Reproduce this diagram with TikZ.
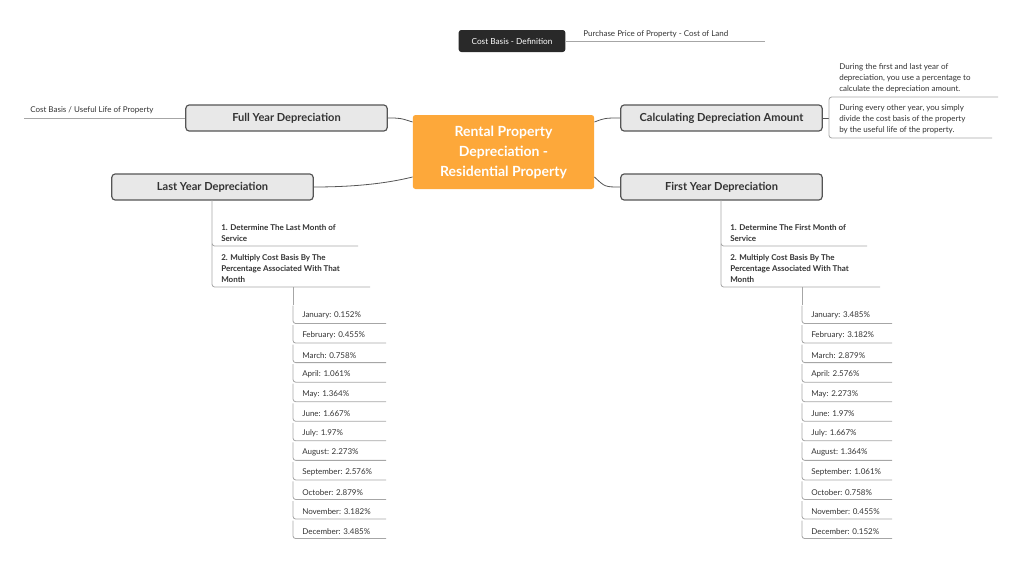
\documentclass[tikz,border=0pt]{standalone}
\usepackage{fontspec}
\setmainfont{Lato}
\definecolor{orng}{HTML}{FDA83A}
\definecolor{boxg}{HTML}{E8E8E8}
\definecolor{edge}{HTML}{555555}
\definecolor{txt}{HTML}{333333}
\begin{document}
\begin{tikzpicture}[x=0.75pt,y=-0.75pt,
  topic/.style={draw=edge,line width=0.9pt,fill=boxg,rounded corners=2.5pt,minimum width=151pt,minimum height=19.5pt,font=\fontsize{8.3}{10}\selectfont\bfseries,text=txt,inner sep=0pt},
  small/.style={font=\fontsize{6}{8.2}\selectfont,text=txt,anchor=south west,inner sep=0pt,align=left},
  smallb/.style={small,font=\fontsize{6}{8.2}\selectfont\bfseries},
  ln/.style={draw=edge,line width=0.6pt},
  uln/.style={draw=gray!70,line width=0.6pt,rounded corners=2pt}]
\useasboundingbox (0,0) rectangle (1024,565);
\node[fill=orng,rounded corners=2pt,minimum width=136pt,minimum height=55.5pt,text=white,font=\fontsize{10.5}{15}\selectfont\bfseries,align=center,inner sep=0pt] (c) at (503.5,152) {Rental Property\\Depreciation -\\Residential Property};
\node[topic] (fy) at (286.5,118) {Full Year Depreciation};
\node[topic] (ly) at (212.5,187) {Last Year Depreciation};
\node[topic] (ca) at (721.5,118) {Calculating Depreciation Amount};
\node[topic] (fr) at (721.5,187) {First Year Depreciation};
\node[fill=txt!80!black,rounded corners=2pt,minimum width=80pt,minimum height=16.5pt,text=white,font=\fontsize{6.2}{8}\selectfont,inner sep=0pt] (cb) at (512,41) {Cost Basis - Definition};
\draw[ln] (fy.east) .. controls (400,118) .. (c.west |- 0,122);
\draw[ln] (ly.east) .. controls (370,187) and (400,180) .. (c.west |- 0,177);
\draw[ln] (c.east |- 0,122) .. controls (605,118) .. (ca.west);
\draw[ln] (c.east |- 0,177) .. controls (605,187) .. (fr.west);
% cost basis def
\coordinate (cbe) at (765,41);
\draw[uln] (cb.east) -- (cbe);
\node[small] (cbt) at (583,38) {Purchase Price of Property - Cost of Land};
% full year note
\coordinate (fye) at (24,118);
\draw[uln] (fy.west) -- (fye);
\node[small] (fyt) at (30,114) {Cost Basis / Useful Life of Property};
% calc notes
\coordinate (cb1) at (998,97);
\coordinate (cb2) at (992,138);
\draw[ln] (ca.east) -- (829,118);
\draw[uln] (cb1) -- (829,97) -- (829,138) -- (cb2);
\node[small] (n1) at (839,93) {During the first and last year of\\depreciation, you use a percentage to\\calculate the depreciation amount.};
\node[small] (n2) at (839,134) {During every other year, you simply\\divide the cost basis of the property\\by the useful life of the property.};
% step lists
\foreach \nm/\vx/\ea/\eb/\word in {L/212/358/370/Last, F/721/867/880/First}{
  \coordinate (\nm s1) at (\ea,246);
  \coordinate (\nm s2) at (\eb,287);
  \draw[uln] (\vx,200) -- (\vx,246) -- (\nm s1);
  \draw[uln] (\vx,244) -- (\vx,287) -- (\nm s2);
  \node[smallb] (\nm t1) at (\vx+9,242) {1. Determine The \word{} Month of\\Service};
  \node[smallb] (\nm t2) at (\vx+9,283) {2. Multiply Cost Basis By The\\Percentage Associated With That\\Month};
}
% months
\def\mL{{"January: 0.152\%","February: 0.455\%","March: 0.758\%","April: 1.061\%","May: 1.364\%","June: 1.667\%","July: 1.97\%","August: 2.273\%","September: 2.576\%","October: 2.879\%","November: 3.182\%","December: 3.485\%"}}
\def\mF{{"January: 3.485\%","February: 3.182\%","March: 2.879\%","April: 2.576\%","May: 2.273\%","June: 1.97\%","July: 1.667\%","August: 1.364\%","September: 1.061\%","October: 0.758\%","November: 0.455\%","December: 0.152\%"}}
\draw[uln] (293,287) -- (293,305);
\draw[uln] (802,287) -- (802,305);
\foreach \i in {0,...,11}{
  \pgfmathsetmacro{\yy}{323.5+19.55*\i}
  \pgfmathsetmacro{\yt}{\yy-18}
  \coordinate (lm\i) at (386,\yy);
  \coordinate (fm\i) at (892,\yy);
  \draw[uln] (293,\yt) -- (293,\yy) -- (lm\i);
  \draw[uln] (802,\yt) -- (802,\yy) -- (fm\i);
  \node[small] (lmt\i) at (302,\yy-4) {\pgfmathparse{\mL[\i]}\pgfmathresult};
  \node[small] (fmt\i) at (811,\yy-4) {\pgfmathparse{\mF[\i]}\pgfmathresult};
}
\end{tikzpicture}
\end{document}
